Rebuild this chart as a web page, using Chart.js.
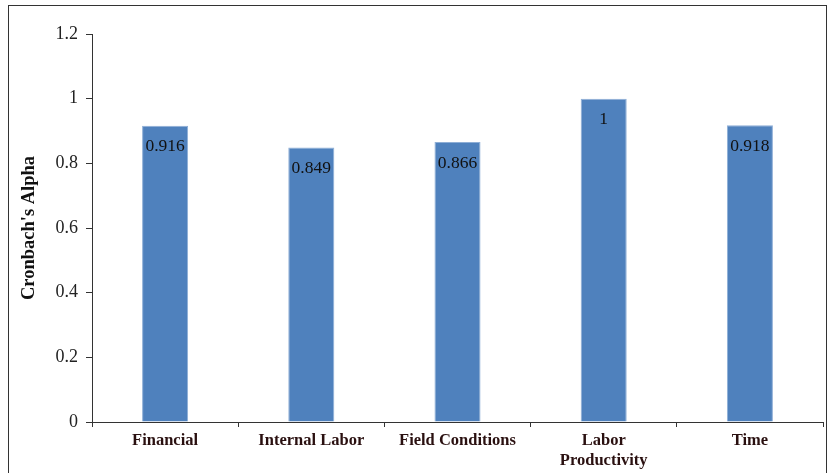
<!DOCTYPE html>
<html>
<head>
<meta charset="utf-8">
<script src="https://cdn.jsdelivr.net/npm/chart.js@4"></script>
<style>
  html, body { margin: 0; padding: 0; background: #fff; }
  #wrap { width: 828px; height: 473px; position: relative; }
</style>
</head>
<body>
<div id="wrap"><canvas id="alphaChart"></canvas></div>
<script>
// dados do gráfico
const categories = ['Financial', 'Internal Labor', 'Field Conditions', ['Labor', 'Productivity'], 'Time'];
const alphaValues = [0.916, 0.849, 0.866, 1, 0.918];
const valueLabels = ['0.916', '0.849', '0.866', '1', '0.918'];
const yTickLabels = ['0', '0.2', '0.4', '0.6', '0.8', '1', '1.2'];

// moldura em volta da figura
const framePlugin = {
    id: 'frame',
    beforeDraw(chart) {
        const c = chart.ctx;
        c.save();
        c.fillStyle = '#fff';
        c.fillRect(0, 0, chart.width, chart.height);
        c.strokeStyle = '#333';
        c.lineWidth = 1;
        c.strokeRect(8.5, 5.5, 818, 475);
        c.restore();
    }
};

// rótulos de valor dentro das barras
const valueLabelPlugin = {
    id: 'valueLabels',
    afterDatasetsDraw(chart) {
        const c = chart.ctx;
        const meta = chart.getDatasetMeta(0);
        c.save();
        c.font = '17.5px "Liberation Serif", serif';
        c.fillStyle = '#111';
        c.textAlign = 'center';
        c.textBaseline = 'middle';
        meta.data.forEach((bar, i) => {
            c.fillText(valueLabels[i], bar.x, bar.y + 21);
        });
        c.restore();
    }
};

const ctx = document.getElementById('alphaChart');
new Chart(ctx, {
    type: 'bar',
    data: {
        labels: categories,
        datasets: [{
            data: alphaValues,
            backgroundColor: '#4F81BD',
            borderColor: '#8eaed6',
            borderWidth: 1,
            categoryPercentage: 1,
            barPercentage: 0.315
        }]
    },
    options: {
        responsive: true,
        maintainAspectRatio: false,
        animation: false,
        layout: { padding: { top: 34, left: 12, right: 5, bottom: 0 } },
        plugins: {
            legend: { display: false },
            tooltip: { enabled: false }
        },
        scales: {
            y: {
                min: 0,
                max: 1.2,
                ticks: {
                    stepSize: 0.2,
                    color: '#222',
                    padding: 8,
                    font: { family: '"Liberation Serif", serif', size: 18 },
                    callback: (v) => yTickLabels[Math.round(v / 0.2)]
                },
                grid: { drawOnChartArea: false, drawTicks: true, tickLength: 6, color: '#333' },
                border: { color: '#333', width: 1 },
                title: {
                    display: true,
                    text: "Cronbach's Alpha",
                    color: '#111',
                    padding: { top: 6, bottom: 0 },
                    font: { family: '"Liberation Serif", serif', size: 18.5, weight: 'bold' }
                },
                afterFit(scale) { scale.width = 80; }
            },
            x: {
                ticks: {
                    color: '#2a1010',
                    padding: 4,
                    maxRotation: 0,
                    autoSkip: false,
                    font: { family: '"Liberation Serif", serif', size: 16.5, weight: 'bold', lineHeight: 1.2 }
                },
                grid: { drawOnChartArea: false, drawTicks: true, tickLength: 5, color: '#333', offset: true },
                border: { color: '#333', width: 1 },
                afterFit(scale) { scale.height = 51; }
            }
        }
    },
    plugins: [framePlugin, valueLabelPlugin]
});
</script>
</body>
</html>
